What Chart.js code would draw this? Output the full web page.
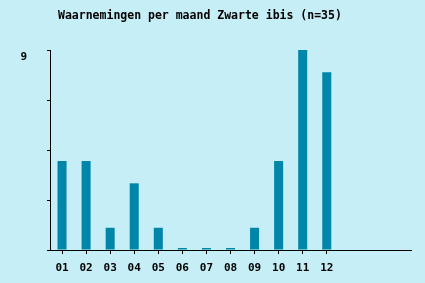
<!DOCTYPE html>
<html lang="nl">
<head>
    <meta charset="UTF-8">
    <title>Waarnemingen per maand Zwarte ibis</title>
    <style>
        html, body {
            margin: 0;
            padding: 0;
            background: #c6eef6;
        }
        canvas {
            display: block;
        }
    </style>
</head>
<body>
    <canvas id="ibisChart" width="425" height="283"></canvas>

    <script src="https://cdn.jsdelivr.net/npm/chart.js"></script>

    <script>
        // Months (three empty slots on the right, as in the original)
        const months = ['01', '02', '03', '04', '05', '06', '07', '08', '09', '10', '11', '12', '', '', ''];
        // Number of sightings per month
        const counts = [4, 4, 1, 3, 1, 0, 0, 0, 1, 4, 9, 8];
        // Y ticks: only the top one is labelled
        const yTickValues = [0, 2.25, 4.5, 6.75, 9];
        const yTickLabels = ['', '', '', '', '9'];

        const chartTitle = 'Waarnemingen per maand Zwarte ibis (n=35)';
        const monoFont = "'DejaVu Sans Mono', 'Liberation Mono', monospace";

        // Title sits left of centre, so draw it ourselves
        const titlePlugin = {
            id: 'leftTitle',
            afterDraw(chart) {
                const c = chart.ctx;
                c.save();
                c.font = 'bold 11.5px ' + monoFont;
                c.fillStyle = '#000';
                c.textBaseline = 'middle';
                c.textAlign = 'left';
                c.fillText(chartTitle, 58, 16.5);
                c.restore();
            }
        };

        const ctx = document.getElementById('ibisChart').getContext('2d');
        new Chart(ctx, {
            type: 'bar',
            data: {
                labels: months,
                datasets: [{
                    data: counts,
                    backgroundColor: '#0086a8',
                    barPercentage: 0.75,
                    categoryPercentage: 0.5,
                    minBarLength: 2
                }]
            },
            options: {
                responsive: false,
                animation: false,
                layout: {
                    padding: { top: 50, right: 14, left: 0, bottom: 0 }
                },
                plugins: {
                    legend: { display: false },
                    title: { display: false },
                    tooltip: { enabled: false }
                },
                scales: {
                    x: {
                        offset: true,
                        grid: {
                            offset: false,
                            drawOnChartArea: false,
                            tickLength: 4,
                            color: c => (months[c.index] ? '#000' : 'rgba(0,0,0,0)')
                        },
                        border: { color: '#000', width: 1 },
                        ticks: {
                            autoSkip: false,
                            maxRotation: 0,
                            padding: 8,
                            color: '#000',
                            font: { family: monoFont, size: 11, weight: 'bold' }
                        },
                        afterFit(scale) { scale.height = 33; }
                    },
                    y: {
                        min: 0,
                        max: 9,
                        afterBuildTicks(scale) {
                            scale.ticks = yTickValues.map(v => ({ value: v }));
                        },
                        grid: {
                            drawOnChartArea: false,
                            tickLength: 3,
                            color: '#000'
                        },
                        border: { color: '#000', width: 1 },
                        ticks: {
                            padding: 20,
                            labelOffset: 7,
                            color: '#000',
                            font: { family: monoFont, size: 11, weight: 'bold' },
                            callback: (v, i) => yTickLabels[i]
                        },
                        afterFit(scale) { scale.width = 50; }
                    }
                }
            },
            plugins: [titlePlugin]
        });
    </script>
</body>
</html>
